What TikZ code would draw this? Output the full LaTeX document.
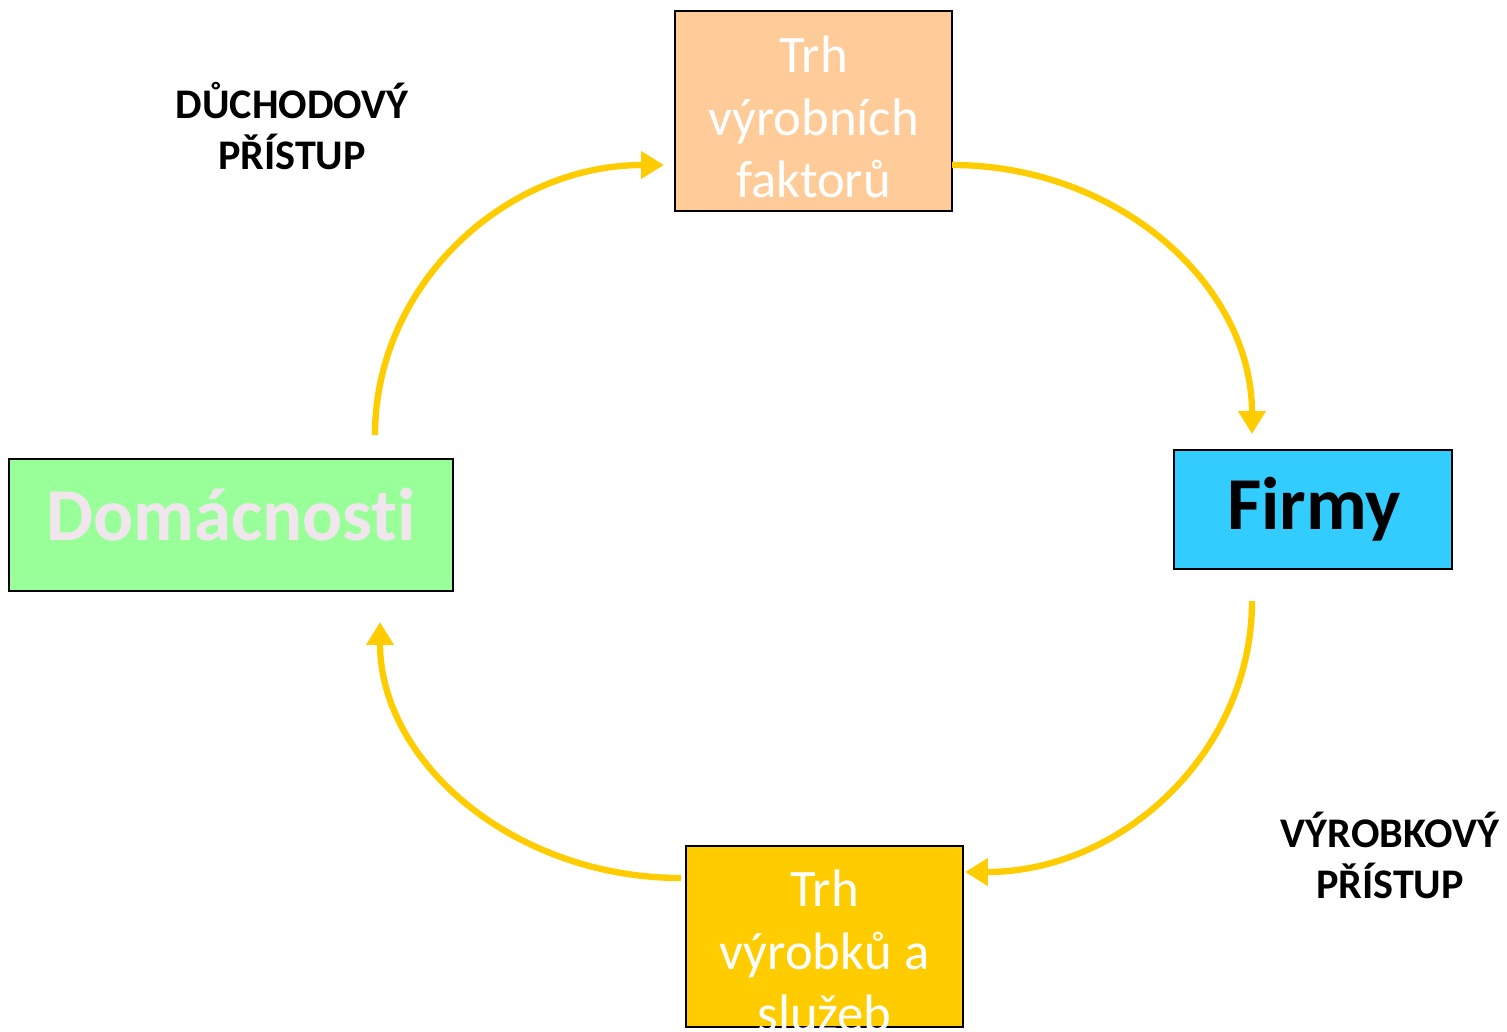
\documentclass[tikz,border=0pt]{standalone}
\usepackage{fontspec}
\setmainfont{Carlito}[Ligatures=NoCommon]
\usetikzlibrary{arrows.meta}
\definecolor{mpeach}{HTML}{FFCC99}
\definecolor{mblue}{HTML}{33CCFF}
\definecolor{mgreen}{HTML}{99FF99}
\definecolor{myellow}{HTML}{FFCC00}
\definecolor{mpale}{HTML}{F2E6EE}
\tikzset{box/.style = {draw=black, line width=1.1pt, inner sep=0pt},
         boxtext/.style = {white, align=center, font=\fontsize{30}{35.7}\selectfont},
         bigtext/.style = {font=\fontsize{42.5}{50}\selectfont\bfseries},
         side/.style = {align=center, font=\fontsize{24}{29}\selectfont\bfseries},
         flow/.style = {myellow, line width=3.6pt, -{Triangle[length=13pt, width=15pt]}}}

\begin{document}
\begin{tikzpicture}[x=0.02cm, y=-0.02cm]
    \useasboundingbox (0, 0) rectangle (1507, 1031);

    \node (faktory) [box, fill=mpeach, minimum width=5.54cm, minimum height=4cm] at (813.5, 111) {};
    \node (firmy) [box, fill=mblue, minimum width=5.56cm, minimum height=2.38cm] at (1313, 509.5) {};
    \node (domacnosti) [box, fill=mgreen, minimum width=8.88cm, minimum height=2.64cm] at (231, 525) {};
    \node (vyrobky) [box, fill=myellow, minimum width=5.54cm, minimum height=3.62cm] at (824.5, 936.5) {};

    \node (faktorytext) [boxtext] at (813.5, 117) {Trh\\výrobních\\faktorů};
    \node (vyrobkytext) [boxtext] at (824.5, 951) {Trh\\výrobků a\\služeb};
    \node (firmytext) [bigtext] at (1314, 509) {Firmy};
    \node (domtext) [bigtext, mpale] at (231, 515) {Domácnosti};

    \node (duchod) [side] at (292, 126) {DŮCHODOVÝ\\PŘÍSTUP};
    \node (vyrobek) [side] at (1390, 855) {VÝROBKOVÝ\\PŘÍSTUP};

    \coordinate (s1) at (375, 435);
    \coordinate (t1) at (664, 165);
    \coordinate (s2) at (952, 165);
    \coordinate (t2) at (1252, 434);
    \coordinate (s3) at (1252, 601);
    \coordinate (t3) at (965, 872);
    \coordinate (s4) at (681, 878);
    \coordinate (t4) at (380, 622);

    \draw [flow] (s1) .. controls (375, 286) and (504, 165) .. (t1);
    \draw [flow] (s2) .. controls (1118, 165) and (1252, 285) .. (t2);
    \draw [flow] (s3) .. controls (1252, 751) and (1123, 872) .. (t3);
    \draw [flow] (s4) .. controls (515, 878) and (380, 763) .. (t4);
  \end{tikzpicture}
\end{document}
